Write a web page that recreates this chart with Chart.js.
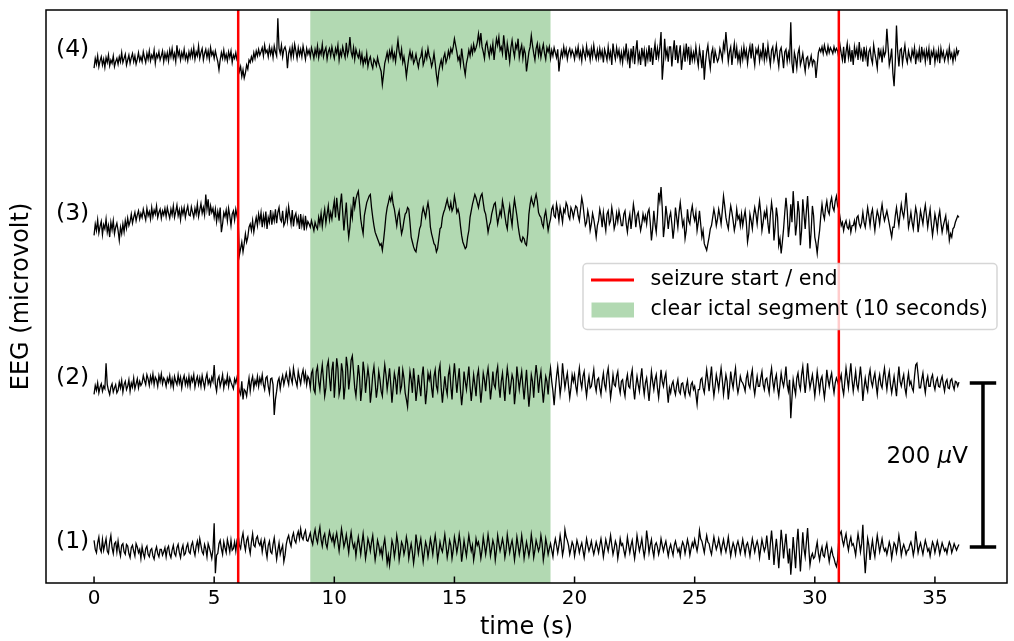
<!DOCTYPE html>
<html><head><meta charset="utf-8">
<script src="https://cdn.jsdelivr.net/npm/chart.js@4/dist/chart.umd.min.js"></script>
<style>html,body{margin:0;padding:0;background:#fff;}canvas{display:block;}</style>
</head><body>
<canvas id="c" width="1014" height="641"></canvas>
<script>
// ---- data (µV relative to each channel's offset, one sample every 0.05 s, one row per second) ----
const sampleStep = 0.05;
const channelNames = ['(1)', '(2)', '(3)', '(4)'];
const channelOffsets = [0, 200, 400, 600];

const ch1 = [
8,-3,-7,5,12,-2,-6,9,-4,3,10,-5,-8,6,14,-1,-8,4,6,-6,
7,-4,-11,2,4,-6,-9,3,1,-8,-13,-1,2,-5,-11,4,0,-7,-3,-14,
0,-8,-13,-2,1,-9,-12,-4,-2,-11,-15,-5,0,-8,-12,-3,-3,-10,-6,-1,
-12,-2,1,-9,-13,-4,2,-8,-11,-1,3,-7,-13,-3,2,-10,-8,0,4,-6,
-8,2,6,-4,-10,1,7,-3,10,2,-6,-9,3,-2,-12,4,-1,-7,-14,-3,
29,-32,-10,-8,4,8,-2,-9,6,-1,-7,9,2,-6,8,-4,-2,6,-5,8,
14,2,-2,10,17,4,-4,8,12,0,-8,6,16,2,0,10,13,5,2,8,
-6,4,9,-4,-13,2,7,-6,-8,3,11,-2,-15,-4,5,-9,-3,2,-18,-10,
3,10,14,6,1,12,17,8,5,14,19,10,22,12,9,16,20,8,7,12,
17,8,3,14,21,10,5,16,24,9,1,12,16,4,-1,10,19,12,7,14,
2,10,17,6,-5,8,22,12,0,6,15,4,-7,8,18,6,-1,4,-11,2,
12,2,-9,4,16,2,-14,-4,10,4,-5,6,14,-2,-16,-6,8,2,-8,-2,
-12,2,10,-4,-20,-10,-22,-8,8,2,-12,-2,14,4,-16,-6,6,2,-9,-2,
12,4,-14,-4,4,-6,-20,-8,15,4,-8,2,10,-4,-18,-6,6,0,-12,-2,
10,2,-9,4,14,2,-16,-6,6,-2,-6,4,15,2,-13,-4,8,2,-14,-4,
12,4,-7,2,15,4,-18,-6,8,-2,-11,2,14,4,-5,2,-16,-6,10,2,
6,-2,-14,-4,12,2,-9,2,15,4,-11,-2,8,2,-16,-4,14,4,-5,2,
10,2,-13,-4,15,4,-7,2,8,-2,-16,-4,12,2,-9,0,14,2,-14,-4,
6,-2,-11,-2,15,4,-13,-4,8,2,-5,0,14,4,-16,-6,10,2,-9,-2,
4,-4,-12,2,10,2,-7,2,14,4,-10,-2,21,12,8,2,-9,-2,6,2,
-11,-2,8,2,-7,0,5,-4,-13,-2,10,2,-5,0,7,-2,-9,-2,6,0,
-7,2,10,0,-12,-2,9,2,-5,4,14,2,-9,-2,7,2,-14,-4,10,2,
4,-4,-11,-2,12,2,-7,2,8,-4,-14,-2,14,4,-5,2,10,-2,-12,-2,
20,8,-7,2,9,-4,-12,2,5,0,-9,-2,10,2,-5,2,7,-2,-11,-2,
3,-4,-10,2,7,0,-6,-2,-11,0,6,2,-8,0,9,2,-10,-2,5,0,
9,2,-5,4,20,10,7,0,-7,4,14,6,4,-4,-9,2,12,4,-3,2,
10,2,-7,2,9,0,-6,2,12,0,-11,-2,5,0,-9,2,7,0,-8,0,
9,0,-9,2,5,-2,-11,0,10,2,-6,2,7,0,-13,-2,9,2,-5,0,
14,-2,-16,4,20,2,-22,-4,10,-6,-26,-4,21,6,-14,2,16,-4,-20,-2,
-34,-14,12,-6,-26,4,22,-4,-30,-8,18,-2,-12,6,23,-2,-22,-12,-8,-14,
-12,-2,6,-8,-16,-6,0,-10,-12,-2,4,-8,-18,-8,-2,-10,-14,-20,-24,-16,
10,16,19,8,2,10,16,4,-4,6,12,2,4,-2,-10,4,16,6,-6,4,
27,-8,-32,-10,10,2,-16,-2,8,-4,-12,2,14,4,-6,2,10,0,-5,-2,
-9,-2,6,0,-14,-4,5,2,-7,2,14,4,-10,-2,3,-2,-9,-4,-4,2,
6,0,-10,-2,19,6,-7,0,5,-2,-9,0,8,2,-5,-2,-11,-2,6,2,
-7,0,7,0,-9,-2,5,0,-5,-2,-8,0,6,2,-7,-2,4,0,-4,0,
3];

const ch2 = [
-14,-3,-9,0,-12,-5,-1,-10,-4,-7,24,-2,-9,-14,-5,-1,-11,-6,-2,-12,
-9,1,-6,3,-11,-2,2,-8,-4,4,-10,0,-5,6,-7,-1,5,-6,2,-3,
0,9,3,-2,10,5,-3,8,1,11,-2,7,4,-4,9,2,11,-1,6,3,
-4,6,1,9,-3,5,-5,8,2,-2,10,0,7,-6,4,9,-2,5,-3,8,
-4,7,2,10,-5,3,8,-2,6,-4,9,1,-6,5,11,-1,4,-3,7,2,
22,-2,-10,4,8,-4,2,10,-6,3,-1,9,-4,6,1,-3,-7,5,0,7,
-4,-10,-14,2,-20,-8,-10,-16,-4,6,-10,2,8,-6,3,-2,8,-4,6,0,
10,-2,-8,6,8,-4,-12,5,6,-2,-39,-20,-10,2,6,-7,3,9,-2,5,
12,4,-2,15,6,0,18,8,2,-4,14,6,-1,10,16,3,12,-2,8,5,
-6,12,16,-8,-12,14,20,2,-8,10,22,4,-16,-6,20,27,6,-10,16,26,
-18,4,30,18,-14,-6,24,14,-20,-4,32,20,-8,6,28,33,14,-6,-16,2,
22,8,-22,-6,26,14,-12,4,18,6,-24,-10,10,20,2,-18,-6,14,4,-10,
-16,6,22,10,-8,4,18,-2,-24,-6,12,4,-14,8,20,-10,-4,16,6,-12,
-20,-29,-6,14,4,-12,18,2,-22,-8,10,-4,-16,8,20,-2,-26,-10,12,4,
12,-6,-18,8,16,-4,-10,14,22,-6,-24,-8,8,-6,-14,10,18,-4,-20,6,
24,6,-12,4,18,-8,-27,-12,14,2,-8,6,20,-4,-22,-6,10,-2,-16,8,
16,-4,-24,-8,12,4,-10,8,18,2,-20,-6,14,-2,-6,12,20,-4,-18,2,
12,-6,-22,2,18,6,-14,-2,10,4,-26,-10,20,6,-8,4,14,-4,-20,-2,
16,-8,-29,-12,10,2,-18,6,22,8,-12,4,14,-6,-24,-8,8,2,-14,6,
18,2,-10,-27,-8,8,20,4,-14,-2,24,8,-6,4,12,-4,-18,-6,10,2,
10,-4,-12,6,18,2,-6,8,14,-4,-16,-2,8,-6,-4,6,16,-2,-10,4,
6,-6,-14,2,12,-2,-8,10,18,0,-18,-6,10,-2,-4,8,14,-4,-12,2,
4,-8,-16,2,10,-4,-6,8,16,-6,-20,-4,8,-2,-10,6,18,-2,-14,0,
6,-8,-22,-4,14,2,-8,4,10,-6,-18,-2,16,2,-4,6,12,-8,-24,-6,
-12,-2,2,-8,-14,-3,4,-10,-13,-1,0,-9,-16,-4,3,-11,-15,-2,1,-8,
-4,-14,-26,-8,-8,4,6,-6,-12,2,16,4,-10,6,20,-2,-16,-4,10,2,
-8,6,18,4,-14,-2,10,2,-20,-6,14,2,-6,8,18,-2,-12,-4,8,2,
0,-4,-10,6,12,-2,-6,8,16,-4,-14,-2,8,-4,-4,6,14,-2,-8,4,
6,-4,-12,8,18,2,-8,4,10,-6,-16,-2,12,2,-4,6,20,-2,-10,4,
-43,-18,4,-6,-14,6,12,-2,-8,10,20,2,-12,4,24,6,-6,2,10,-2,
-16,-2,14,2,-10,4,8,-6,-18,-4,16,4,-4,6,12,-2,-12,0,6,2,
-4,4,10,-6,-14,2,18,6,-6,10,24,4,-10,2,14,-2,-8,6,20,4,
-22,-6,6,-4,-10,8,16,2,-4,6,12,-2,-14,2,10,-2,-6,8,18,4,
-8,6,14,-2,-12,-2,8,-4,-16,4,20,2,-4,4,10,-6,-14,2,12,-2,
2,-6,-10,8,22,24,10,-6,-6,4,12,-2,-12,2,8,-4,-4,6,10,-2,
-8,2,6,-4,-5,3,8,-2,-10,1,4,-6,-7,3,5,-3,-8,2,1,-4,
1];

const ch3 = [
-20,-6,-14,-1,-17,-9,-3,-19,-7,-12,0,-16,-8,-22,-4,-13,-2,-18,-10,-5,
-14,-26,-10,-18,-6,-16,-2,-11,1,-8,-3,6,-5,2,8,-2,5,10,0,7,
2,12,5,-1,13,4,9,0,14,3,11,6,16,2,8,12,1,10,5,13,
3,14,7,1,12,5,16,2,9,17,4,11,-1,13,6,14,2,10,16,5,
4,15,8,2,13,6,18,3,11,19,7,14,5,30,12,24,4,16,8,13,
2,12,-3,9,0,14,-16,-6,8,3,11,-2,13,4,-8,6,10,-1,12,4,
-3,-44,-36,-28,-40,-30,-18,-28,-22,-10,-6,-14,-2,-16,-6,2,-8,6,-3,8,
-10,4,-6,9,-12,2,-4,11,-7,6,-2,12,-5,8,14,0,-3,10,-8,-4,
10,-2,15,4,-6,11,-9,3,7,-5,2,-12,6,-8,1,-14,4,-10,-3,-6,
-10,-2,-8,-14,-4,-9,-12,2,-6,7,-9,3,12,-5,6,16,-1,8,0,12,
22,2,26,10,-2,18,31,8,-14,4,20,-6,-22,-10,12,2,27,14,24,30,
34,18,0,-10,-18,4,12,20,24,28,30,14,2,-8,-16,-20,-24,-28,-32,-30,
-38,-26,-12,4,14,20,27,22,30,18,12,2,-8,4,10,-6,-18,-12,-2,6,
8,14,12,-4,-22,-28,-34,-38,-40,-30,-22,-12,-8,6,14,8,2,12,20,10,
-10,-18,-24,-30,-32,-40,-36,-24,-12,-10,2,8,12,18,24,16,12,20,10,14,
28,20,8,12,6,-8,-20,-28,-32,-36,-34,-22,-14,2,10,18,24,30,26,20,
14,22,28,31,20,10,6,-4,-16,-8,-4,6,12,18,20,6,-6,2,10,4,
22,14,4,-6,-12,6,16,2,-8,12,24,14,4,-8,-18,-26,-28,-22,-24,-30,
-32,-18,6,18,26,20,16,24,30,22,8,4,2,-6,-10,4,10,-2,-14,-6,
0,12,16,4,2,18,10,-2,14,6,-4,12,8,20,16,4,0,14,10,2,
10,16,14,4,-2,12,26,18,4,-8,-4,10,2,-14,-6,7,0,-10,-22,-8,
-2,12,4,-10,8,-4,-14,6,10,-6,-2,14,4,-12,-6,7,-3,10,2,-8,
-8,6,10,-6,-16,-2,6,-12,2,18,8,-10,4,8,-4,-14,-6,6,-2,4,
-6,8,12,-4,-26,-12,10,-6,-16,4,32,22,39,14,-22,-8,16,4,-12,2,
8,-6,-24,-10,14,2,-10,8,20,6,-8,-2,-24,-14,12,-2,-6,8,16,4,
-2,8,-14,-4,10,-6,-22,-14,-30,-34,-38,-30,-22,-12,-8,2,12,4,-8,0,
12,4,-6,10,28,16,2,-6,-12,4,16,8,-2,-14,-6,12,0,4,-8,6,
-8,2,10,-4,-28,-18,6,-2,-12,4,14,6,-6,10,22,8,-14,-4,8,2,
12,-6,-18,4,20,8,-26,-10,14,2,-32,-24,-42,-28,-12,8,26,10,-22,-8,
18,-4,34,10,-20,-6,22,8,-32,-14,24,6,-12,10,28,0,-36,-14,16,4,
-22,-30,-42,-26,-14,4,18,6,0,14,22,10,6,20,26,14,10,22,28,16,
12,2,-8,-4,-14,-6,-2,-10,-12,-4,-16,-8,-8,-2,-12,2,4,-6,-10,-4,
8,-4,-10,2,14,4,-8,6,12,-2,-14,0,10,4,-6,8,18,6,-2,4,
10,2,-6,-14,-22,-10,-10,4,14,2,-8,6,18,8,2,14,32,12,-10,-2,
8,-4,-12,2,14,6,-16,-4,10,2,-6,8,17,4,-10,2,12,-6,-20,-8,
6,-2,-14,2,10,-4,-16,-8,-2,4,-14,-6,-26,-18,-22,-12,-10,-4,0,4,
2];

const ch4 = [
-16,-4,-11,-1,-14,-7,-2,-12,-5,-15,-3,-9,0,-13,-6,-10,-1,-14,-8,-4,
-11,-2,-8,3,-9,-4,1,-12,-6,0,-10,-3,2,-8,-1,-11,-5,3,-7,-2,
-8,4,-3,-9,2,-5,5,-7,0,-4,6,-10,1,-3,4,-6,-1,5,-8,2,
-5,3,-7,6,-2,8,-4,2,-8,12,-1,5,-6,3,-3,7,-5,1,-7,4,
-3,6,-2,9,-5,4,-1,11,-4,3,8,-6,2,7,-3,5,-5,9,0,4,
-4,5,-2,-8,-18,-6,3,-4,6,-5,1,-7,4,-3,5,-9,0,-4,3,-6,
-10,-20,-14,-26,-18,-28,-22,-12,-17,-6,-9,-2,-7,3,-4,5,-1,7,0,4,
9,-1,12,3,6,-2,10,1,8,-3,11,4,-1,45,8,2,12,-2,7,10,
4,-16,2,8,-3,10,-1,13,5,-4,9,0,7,-2,11,3,-5,8,1,6,
-2,9,3,-4,7,0,11,-3,6,1,13,-2,5,9,-5,4,8,-1,10,2,
-4,8,2,12,-6,5,-1,10,3,-3,15,0,6,22,4,-2,9,-5,7,1,
-3,4,-8,1,-12,-4,-9,2,-14,-6,-2,-11,-16,-5,-8,-13,-3,-10,-15,-20,
-36,-24,-10,-4,3,-6,5,-2,8,-5,2,-8,6,18,4,-3,7,-9,-2,-12,
-26,-14,-3,5,-4,2,-10,-6,1,-8,-15,-5,-2,6,-12,-7,3,-4,8,-1,
-5,-14,-8,2,-10,-24,-34,-20,-12,-6,-15,-3,2,-9,-4,5,-2,8,3,10,
20,12,4,-6,-2,-12,8,-4,-15,-24,-10,-3,6,-1,10,2,13,5,9,15,
26,14,27,10,4,-4,12,16,6,-2,10,3,14,-6,8,20,12,22,6,10,
2,24,10,-6,14,4,-8,9,18,6,-2,13,8,20,-3,6,12,-4,8,2,
-20,-8,4,10,24,12,2,-6,8,14,0,10,-3,6,13,2,-5,9,4,10,
-4,6,-1,9,3,-3,7,-20,-6,5,-2,10,0,7,-5,4,8,-1,6,2,
-5,7,0,10,-3,4,-7,9,2,-4,11,0,5,-6,8,-2,12,1,-5,6,
-4,8,-2,5,-9,7,1,-6,10,-3,4,-12,14,2,-5,9,-1,6,-7,3,
-9,6,-2,14,-6,3,-16,8,-4,11,-11,5,18,-7,2,-12,9,-3,6,-14,
4,-5,12,-8,9,-12,3,14,-6,8,-3,10,28,-30,-10,20,-2,6,-8,10,
10,-14,4,18,-6,12,-10,2,12,-18,-4,8,-8,14,-2,10,-12,6,-6,3,
-6,10,-3,-13,8,-2,-16,6,-30,-9,4,12,-4,-16,2,8,-10,5,-2,-8,
-4,8,2,-6,14,6,28,10,-8,4,10,-12,3,14,-4,9,-7,2,-10,6,
-5,10,-2,6,-10,3,11,-4,14,-1,-12,7,2,9,-7,4,-3,15,-6,5,
-4,12,-1,-12,6,10,-6,2,12,-3,-14,5,9,-2,-16,4,7,-8,3,-5,
40,-10,-22,3,-4,-16,2,8,-12,-6,2,-10,-20,-4,-2,-14,-8,-1,-12,-6,
-8,-28,-12,3,8,4,10,2,12,5,1,11,3,9,6,2,10,4,8,5,
-4,12,2,-6,10,-10,4,14,-3,8,-8,6,-12,10,0,8,-6,16,-2,5,
-8,10,-3,6,-14,4,8,-4,-10,12,2,-6,-16,9,-2,5,-9,7,-1,4,
32,10,-12,-4,8,-22,-38,-8,36,4,-14,6,8,-10,2,12,-3,-9,5,-2,
-7,6,-1,9,-11,3,-4,7,-9,10,-2,5,-8,6,-3,8,-12,4,-1,7,
-9,3,-5,6,-10,8,-2,4,-7,-1,5,-6,9,-3,2,-8,4,-4,7,1,
6];

const channels = [ch1, ch2, ch3, ch4];
const xTicks = [0, 5, 10, 15, 20, 25, 30, 35];
const seizureTimes = [6, 31];
const ictalSegment = [9, 19];
const scaleBarX = 37;
const scaleBarRange = [0, 200];
const scaleBarValue = '200 ';
const scaleBarUnit = ['μ', 'V'];
const legendLabels = ['seizure start / end', 'clear ictal segment (10 seconds)'];
const xLabel = 'time (s)';
const yLabel = 'EEG (microvolt)';

// ---- chart ----
const FONT = '"DejaVu Sans", sans-serif';
Chart.defaults.font.family = FONT;
Chart.defaults.color = '#000';

const datasets = channels.map((vals, k) => ({
  data: vals.map((v, i) => ({ x: Math.round(i * sampleStep * 100) / 100, y: v + channelOffsets[k] })),
  borderColor: '#000', borderWidth: 1.3, pointRadius: 0, tension: 0, fill: false
}));
const capHalf = 0.55;
datasets.push({
  data: [
    { x: scaleBarX - capHalf, y: scaleBarRange[0] }, { x: scaleBarX + capHalf, y: scaleBarRange[0] }, { x: scaleBarX, y: null },
    { x: scaleBarX, y: scaleBarRange[0] }, { x: scaleBarX, y: scaleBarRange[1] }, { x: scaleBarX, y: null },
    { x: scaleBarX - capHalf, y: scaleBarRange[1] }, { x: scaleBarX + capHalf, y: scaleBarRange[1] }
  ],
  borderColor: '#000', borderWidth: 3.5, pointRadius: 0, spanGaps: false, fill: false, borderCapStyle: 'butt'
});

const deco = {
  id: 'deco',
  beforeDatasetsDraw(chart) {
    const { ctx, chartArea: a, scales: { x } } = chart;
    ctx.save();
    ctx.fillStyle = 'rgba(0,128,0,0.3)';
    const x0 = x.getPixelForValue(ictalSegment[0]), x1 = x.getPixelForValue(ictalSegment[1]);
    ctx.fillRect(x0, a.top, x1 - x0, a.bottom - a.top);
    ctx.restore();
  },
  afterDatasetsDraw(chart) {
    const { ctx, chartArea: a, scales: { x } } = chart;
    ctx.save();
    ctx.strokeStyle = '#ff0000'; ctx.lineWidth = 2.5;
    seizureTimes.forEach(t => {
      const px = x.getPixelForValue(t);
      ctx.beginPath(); ctx.moveTo(px, a.top); ctx.lineTo(px, a.bottom); ctx.stroke();
    });
    ctx.restore();
  },
  afterDraw(chart) {
    const { ctx, chartArea: a, scales: { x, y } } = chart;
    ctx.save();
    ctx.strokeStyle = '#000'; ctx.lineWidth = 1.5;
    ctx.strokeRect(a.left, a.top, a.right - a.left, a.bottom - a.top);
    xTicks.forEach(v => {
      const px = x.getPixelForValue(v);
      ctx.beginPath(); ctx.moveTo(px, a.bottom); ctx.lineTo(px, a.bottom - 6.5); ctx.stroke();
    });
    ctx.fillStyle = '#000';
    ctx.font = '23.5px ' + FONT;
    ctx.textAlign = 'right'; ctx.textBaseline = 'middle';
    channelNames.forEach((n, k) => {
      ctx.fillText(n, x.getPixelForValue(-0.2), y.getPixelForValue(channelOffsets[k] + 6));
    });
    const ly = y.getPixelForValue(110);
    const rightPx = x.getPixelForValue(scaleBarX) - 15;
    ctx.textAlign = 'left';
    const fN = '23px ' + FONT, fI = 'italic 23px ' + FONT;
    ctx.font = fN; const w0 = ctx.measureText(scaleBarValue).width;
    ctx.font = fI; const w1 = ctx.measureText(scaleBarUnit[0]).width;
    ctx.font = fN; const w2 = ctx.measureText(scaleBarUnit[1]).width;
    let sx = rightPx - (w0 + w1 + w2);
    ctx.font = fN; ctx.fillText(scaleBarValue, sx, ly); sx += w0;
    ctx.font = fI; ctx.fillText(scaleBarUnit[0], sx, ly); sx += w1;
    ctx.font = fN; ctx.fillText(scaleBarUnit[1], sx, ly);
    const bw = 414, bh = 66;
    const bx = a.right - 10 - bw, by = (a.top + a.bottom) / 2 - bh / 2;
    ctx.beginPath();
    if (ctx.roundRect) ctx.roundRect(bx, by, bw, bh, 4); else ctx.rect(bx, by, bw, bh);
    ctx.fillStyle = 'rgba(255,255,255,0.8)'; ctx.fill();
    ctx.strokeStyle = 'rgba(204,204,204,0.8)'; ctx.lineWidth = 1.5; ctx.stroke();
    const r1 = by + 16.5, r2 = by + 46.5;
    ctx.strokeStyle = '#ff0000'; ctx.lineWidth = 3;
    ctx.beginPath(); ctx.moveTo(bx + 8, r1); ctx.lineTo(bx + 51, r1); ctx.stroke();
    ctx.fillStyle = 'rgba(0,128,0,0.3)';
    ctx.fillRect(bx + 8.5, r2 - 7.5, 42.5, 15);
    ctx.fillStyle = '#000'; ctx.font = '20.6px ' + FONT; ctx.textAlign = 'left'; ctx.textBaseline = 'middle';
    ctx.fillText(legendLabels[0], bx + 67.5, r1);
    ctx.fillText(legendLabels[1], bx + 67.5, r2);
    ctx.restore();
  }
};

new Chart(document.getElementById('c'), {
  type: 'line',
  data: { datasets },
  options: {
    responsive: false, animation: false, devicePixelRatio: 1,
    layout: { padding: { left: 0, right: 7, top: 10, bottom: 0 } },
    plugins: { legend: { display: false }, tooltip: { enabled: false } },
    scales: {
      x: {
        type: 'linear', min: -2, max: 38,
        afterBuildTicks: s => { s.ticks = xTicks.map(v => ({ value: v })); },
        afterFit: s => { s.height = 58; },
        ticks: { font: { size: 20 }, padding: 4, maxRotation: 0, autoSkip: false, callback: v => String(v) },
        grid: { display: false, drawTicks: false },
        border: { display: false },
        title: { display: true, text: xLabel, font: { size: 24, lineHeight: 1.1 }, padding: { top: 0, bottom: 0 } }
      },
      y: {
        type: 'linear', min: -44, max: 655,
        afterFit: s => { s.width = 46; },
        ticks: { display: false },
        grid: { display: false, drawTicks: false },
        border: { display: false },
        title: { display: true, text: yLabel, font: { size: 24, lineHeight: 1.1 }, padding: { top: 9, bottom: 0 } }
      }
    }
  },
  plugins: [deco]
});
</script>
</body></html>
